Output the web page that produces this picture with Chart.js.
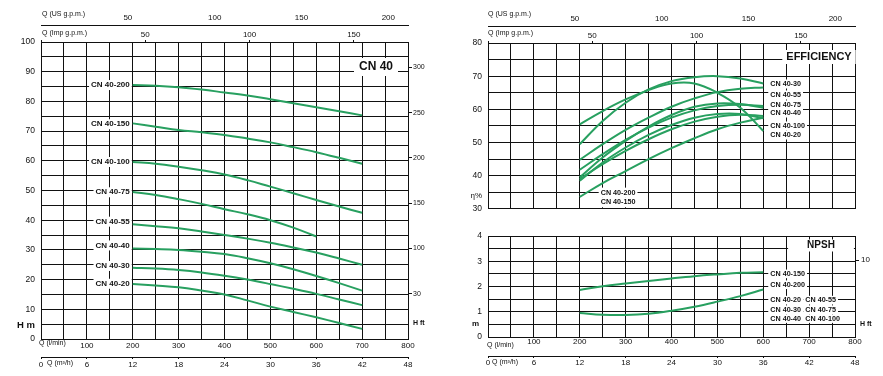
<!DOCTYPE html>
<html>
<head>
<meta charset="utf-8">
<script src="https://cdn.jsdelivr.net/npm/chart.js@4.4.0/dist/chart.umd.min.js"></script>
<style>
  html, body { margin: 0; padding: 0; background: #fff; width: 883px; height: 376px; overflow: hidden; }
  canvas { position: absolute; }
  #headChart { left: 0; top: 0; width: 440px; height: 376px; }
  #effChart { left: 440px; top: 0; width: 443px; height: 220px; }
  #npshChart { left: 440px; top: 220px; width: 443px; height: 156px; }
</style>
</head>
<body>
<canvas id="headChart" width="440" height="376"></canvas>
<canvas id="effChart" width="443" height="220"></canvas>
<canvas id="npshChart" width="443" height="156"></canvas>
<script>
// ── DATA ─────────────────────────────────────
// head curves, Q in l/min, H in m
const qHead = [200, 250, 300, 350, 400, 450, 500, 550, 600, 650, 700];
const headCN200 = [85.5, 85.3, 84.8, 84.0, 83.0, 82.0, 80.7, 79.4, 78.0, 76.7, 75.3];
const headCN150 = [72.6, 71.5, 70.4, 69.6, 68.7, 67.5, 66.2, 64.6, 62.9, 61.0, 59.0];
const headCN100 = [59.6, 59.0, 58.0, 56.8, 55.4, 53.5, 51.3, 49.1, 46.8, 44.6, 42.5];
const headCN75  = [49.5, 48.5, 47.1, 45.5, 43.7, 42.0, 40.0, 37.5, 34.5];
const headCN55  = [38.6, 38.0, 37.3, 36.2, 35.0, 33.8, 32.4, 30.8, 29.1, 27.1, 25.0];
const headCN40  = [30.5, 30.3, 30.0, 29.4, 28.6, 27.2, 25.5, 23.5, 21.2, 18.8, 16.3];
const headCN30  = [24.0, 23.7, 23.2, 22.4, 21.3, 20.0, 18.5, 16.9, 15.2, 13.3, 11.4];
const headCN20  = [18.5, 18.0, 17.4, 16.3, 15.0, 13.0, 10.9, 9.1, 7.3, 5.4, 3.4];
const headNames = ['CN 40-200', 'CN 40-150', 'CN 40-100', 'CN 40-75', 'CN 40-55', 'CN 40-40', 'CN 40-30', 'CN 40-20'];

// efficiency curves, %
const qEff = [200, 250, 300, 350, 400, 450, 500, 550, 600];
const effCN30  = [49.5, 56.5, 62.0, 66.0, 68.5, 69.7, 70.0, 69.3, 67.8];
const effCN20  = [55.5, 59.5, 63.0, 65.8, 67.8, 67.8, 65.0, 60.5, 53.5];
const effCN55  = [44.8, 49.5, 53.8, 57.5, 60.8, 63.3, 65.2, 66.2, 66.6];
const effCN75  = [41.8, 46.5, 50.8, 54.5, 57.5, 59.7, 61.0, 61.4, 61.0];
const effCN40  = [39.5, 45.5, 50.5, 54.8, 58.3, 60.8, 61.8, 61.6, 60.5];
const effCN100 = [39.0, 43.5, 47.5, 51.0, 54.0, 56.3, 57.8, 58.4, 58.0];
const effCN150 = [38.5, 44.0, 48.5, 52.3, 55.3, 57.5, 58.6, 58.6, 57.3];
const effCN200 = [33.6, 37.8, 41.4, 45.0, 48.3, 51.3, 54.0, 56.0, 57.5];
const effRightNames = ['CN 40-30', 'CN 40-55', 'CN 40-75', 'CN 40-40', 'CN 40-100', 'CN 40-20'];
const effLeftNames = ['CN 40-200', 'CN 40-150'];

// NPSH curves, m
const qNpsh = [200, 250, 300, 350, 400, 450, 500, 550, 600];
const npshBig   = [1.86, 2.01, 2.12, 2.22, 2.32, 2.41, 2.48, 2.54, 2.56];
const npshSmall = [0.95, 0.88, 0.87, 0.92, 1.04, 1.20, 1.40, 1.62, 1.88];
const npshRows = [['CN 40-150'], ['CN 40-200'], ['CN 40-20', 'CN 40-55'], ['CN 40-30', 'CN 40-75'], ['CN 40-40', 'CN 40-100']];

// axis ticks
const usTicks = [50, 100, 150, 200];
const impTicks = [0, 50, 100, 150];
const ftTicks = [50, 100, 150, 200, 250, 300];
const ftLabels = ['30', '100', '150', '200', '250', '300'];
const npshFtTicks = [10];

// unit conversions
const Q_MAX = 800;
const L_PER_USG = 3.78541;
const L_PER_IMPG = 4.54609;
const FT_PER_M = 3.28084;
const M3H_MAX = 48;

// ── STYLE ────────────────────────────────────
const FONT = '"Liberation Sans", Arial, sans-serif';
const INK = '#111';
const GREEN = '#28a060';
Chart.defaults.font.family = FONT;
Chart.defaults.color = INK;

const pts = (xs, ys) => ys.map((y, i) => ({ x: xs[i], y }));

function curve(data) {
  return {
    data, borderColor: GREEN, borderWidth: 2, pointRadius: 0,
    tension: 0.4, fill: false
  };
}

function boxText(ctx, text, x, y, o) {
  ctx.save();
  ctx.font = o.font;
  const w = ctx.measureText(text).width;
  const x0 = o.align === 'right' ? x - w : (o.align === 'center' ? x - w / 2 : x);
  if (o.box) {
    const px = o.padX == null ? 2 : o.padX;
    const py = o.padY == null ? 5 : o.padY;
    ctx.fillStyle = '#fff';
    ctx.fillRect(x0 - px, y - py, w + 2 * px, 2 * py);
  }
  ctx.fillStyle = INK;
  ctx.textAlign = 'left';
  ctx.textBaseline = 'middle';
  ctx.fillText(text, x0, y);
  ctx.restore();
}

const LBL = 'bold 8px ' + FONT;
const LBL_SM = 'bold 7.2px ' + FONT;
const SMALL = '7px ' + FONT;

// ── AXES ─────────────────────────────────────
function qAxis(showLabels, pad, height) {
  return {
    type: 'linear', position: 'bottom', weight: 0, min: 0, max: Q_MAX,
    grid: { color: INK, lineWidth: 1, drawTicks: false },
    border: { color: INK, width: 1 },
    ticks: {
      display: showLabels, stepSize: 50, autoSkip: false, maxRotation: 0, padding: pad,
      font: { size: 8 }, color: INK,
      callback: v => (v > 0 && v % 100 === 0) ? String(v) : ''
    },
    afterFit: s => { s.height = height; }
  };
}

function m3hAxis(pad, height) {
  return {
    type: 'linear', position: 'bottom', weight: 1, min: 0, max: M3H_MAX,
    grid: { display: true, drawOnChartArea: false, drawTicks: true, tickLength: 2, color: INK },
    border: { color: INK, width: 1 },
    ticks: { stepSize: 6, autoSkip: false, maxRotation: 0, padding: pad, font: { size: 8 }, color: INK },
    afterFit: s => { s.height = height; }
  };
}

function usAxis(height) {
  return {
    type: 'linear', position: 'top', weight: 2, min: 0, max: Q_MAX / L_PER_USG,
    grid: { display: true, drawOnChartArea: false, drawTicks: false },
    border: { color: INK, width: 1 },
    afterBuildTicks: s => { s.ticks = usTicks.map(v => ({ value: v })); },
    ticks: { autoSkip: false, maxRotation: 0, padding: 2, font: { size: 8 }, color: INK },
    afterFit: s => { s.height = height; }
  };
}

function impAxis(height) {
  return {
    type: 'linear', position: 'top', weight: 1, min: 0, max: Q_MAX / L_PER_IMPG,
    grid: { display: true, drawOnChartArea: false, drawTicks: true, tickLength: 2, color: INK },
    border: { color: INK, width: 1 },
    afterBuildTicks: s => { s.ticks = impTicks.map(v => ({ value: v })); },
    ticks: {
      autoSkip: false, maxRotation: 0, padding: 0, font: { size: 8 }, color: INK,
      callback: v => v > 0 ? String(v) : ''
    },
    afterFit: s => { s.height = height; }
  };
}

function valueAxis(min, max, step, every, width) {
  return {
    type: 'linear', position: 'left', min, max,
    grid: { color: INK, lineWidth: 1, drawTicks: false },
    border: { color: INK, width: 1 },
    ticks: {
      stepSize: step, autoSkip: false, padding: 6, font: { size: 8.5 }, color: INK,
      callback: v => (Math.abs(v / every - Math.round(v / every)) < 1e-6) ? String(v) : ''
    },
    afterFit: s => { s.width = width; }
  };
}

function ftAxis(max, ticks, labels, width, fontSize, pad) {
  return {
    type: 'linear', position: 'right', min: 0, max,
    grid: { display: true, drawOnChartArea: false, drawTicks: true, tickLength: 4, color: INK },
    border: { color: INK, width: 1 },
    afterBuildTicks: s => { s.ticks = ticks.map(v => ({ value: v })); },
    ticks: { autoSkip: false, padding: pad, font: { size: fontSize }, color: INK,
      callback: (v, i) => labels[i] },
    afterFit: s => { s.width = width; }
  };
}

const baseOpts = {
  responsive: false, animation: false, devicePixelRatio: 1,
  plugins: { legend: { display: false }, tooltip: { enabled: false } }
};

// ── HEAD CHART ───────────────────────────────
const headLabelAt = [85.5, 72.3, 59.6, 49.4, 39.5, 31.5, 24.6, 18.6];

new Chart(document.getElementById('headChart'), {
  type: 'line',
  data: {
    datasets: [
      curve(pts(qHead, headCN200)), curve(pts(qHead, headCN150)),
      curve(pts(qHead, headCN100)), curve(pts(qHead, headCN75)),
      curve(pts(qHead, headCN55)), curve(pts(qHead, headCN40)),
      curve(pts(qHead, headCN30)), curve(pts(qHead, headCN20))
    ]
  },
  options: {
    ...baseOpts,
    layout: { padding: 0 },
    scales: {
      x: qAxis(true, 2, 18),
      xM3: m3hAxis(1, 19),
      xUS: usAxis(25),
      xImp: impAxis(17),
      y: valueAxis(0, 100, 5, 10, 41),
      yFt: ftAxis(100 * FT_PER_M, ftTicks, ftLabels, 32, 7, 1)
    }
  },
  plugins: [{
    id: 'headText',
    afterDraw(chart) {
      const ctx = chart.ctx, xs = chart.scales.x, ys = chart.scales.y;
      const xr = xs.getPixelForValue(200) - 3;
      headNames.forEach((n, i) => boxText(ctx, n, xr, ys.getPixelForValue(headLabelAt[i]), { font: LBL, align: 'right', box: true }));
      boxText(ctx, 'CN 40', 376, 67, { font: 'bold 12px ' + FONT, align: 'center', box: true, padX: 5, padY: 9 });
      boxText(ctx, 'Q (US g.p.m.)', 42, 14, { font: SMALL });
      boxText(ctx, 'Q (Imp g.p.m.)', 42, 33, { font: SMALL });
      boxText(ctx, 'Q (l/min)', 39, 343, { font: SMALL });
      boxText(ctx, 'Q (m³/h)', 47, 363.5, { font: SMALL });
      boxText(ctx, 'H m', 35, 325, { font: 'bold 9.5px ' + FONT, align: 'right' });
      boxText(ctx, 'H ft', 413, 323, { font: 'bold 7px ' + FONT });
    }
  }]
});

// ── EFFICIENCY CHART ─────────────────────────
const effRightAt = [84, 95, 105, 113, 126, 135];

new Chart(document.getElementById('effChart'), {
  type: 'line',
  data: {
    datasets: [
      curve(pts(qEff, effCN30)), curve(pts(qEff, effCN20)),
      curve(pts(qEff, effCN55)), curve(pts(qEff, effCN75)),
      curve(pts(qEff, effCN40)), curve(pts(qEff, effCN100)),
      curve(pts(qEff, effCN150)), curve(pts(qEff, effCN200))
    ]
  },
  options: {
    ...baseOpts,
    layout: { padding: { right: 28 } },
    scales: {
      x: qAxis(false, 0, 6),
      xUS: usAxis(26),
      xImp: impAxis(17),
      y: valueAxis(30, 80, 5, 10, 48)
    }
  },
  plugins: [{
    id: 'effText',
    afterDraw(chart) {
      const ctx = chart.ctx, xs = chart.scales.x, ys = chart.scales.y;
      const xl = xs.getPixelForValue(600) + 7;
      effRightNames.forEach((n, i) => boxText(ctx, n, xl, effRightAt[i], { font: LBL_SM, box: true, padY: 4.5 }));
      const xb = xs.getPixelForValue(250) - 2;
      boxText(ctx, effLeftNames[0], xb, ys.getPixelForValue(34.9), { font: LBL_SM, box: true });
      boxText(ctx, effLeftNames[1], xb, ys.getPixelForValue(32.0), { font: LBL_SM, box: true });
      boxText(ctx, 'EFFICIENCY', 379, 57, { font: 'bold 11px ' + FONT, align: 'center', box: true, padX: 4, padY: 7 });
      boxText(ctx, 'Q (US g.p.m.)', 48, 14, { font: SMALL });
      boxText(ctx, 'Q (Imp g.p.m.)', 48, 33, { font: SMALL });
      boxText(ctx, 'η%', 42, 196, { font: '8px ' + FONT, align: 'right' });
    }
  }]
});

// ── NPSH CHART ───────────────────────────────
const npshRowAt = [2.5, 2.07, 1.46, 1.08, 0.73];

new Chart(document.getElementById('npshChart'), {
  type: 'line',
  data: {
    datasets: [curve(pts(qNpsh, npshBig)), curve(pts(qNpsh, npshSmall))]
  },
  options: {
    ...baseOpts,
    layout: { padding: { top: 16 } },
    scales: {
      x: qAxis(true, 0, 19),
      xM3: m3hAxis(0, 20),
      y: valueAxis(0, 4, 0.5, 1, 48),
      yFt: ftAxis(4 * FT_PER_M, npshFtTicks, ['10'], 28, 8, 2)
    }
  },
  plugins: [{
    id: 'npshText',
    afterDraw(chart) {
      const ctx = chart.ctx, xs = chart.scales.x, ys = chart.scales.y;
      const xl = xs.getPixelForValue(600) + 7;
      npshRows.forEach((row, i) => {
        const y = ys.getPixelForValue(npshRowAt[i]);
        boxText(ctx, row[0], xl, y, { font: LBL_SM, box: true, padY: 4.3 });
        if (row[1]) boxText(ctx, row[1], xl + 35, y, { font: LBL_SM, box: true, padY: 4.3 });
      });
      boxText(ctx, 'NPSH', 381, 25.5, { font: 'bold 10px ' + FONT, align: 'center', box: true, padX: 19, padY: 6 });
      boxText(ctx, 'm', 39, 104, { font: 'bold 8px ' + FONT, align: 'right' });
      boxText(ctx, 'H ft', 420, 104.3, { font: 'bold 7px ' + FONT });
      boxText(ctx, 'Q (l/min)', 47, 125.3, { font: SMALL });
      boxText(ctx, 'Q (m³/h)', 52, 142, { font: SMALL });
    }
  }]
});
</script>
</body>
</html>
